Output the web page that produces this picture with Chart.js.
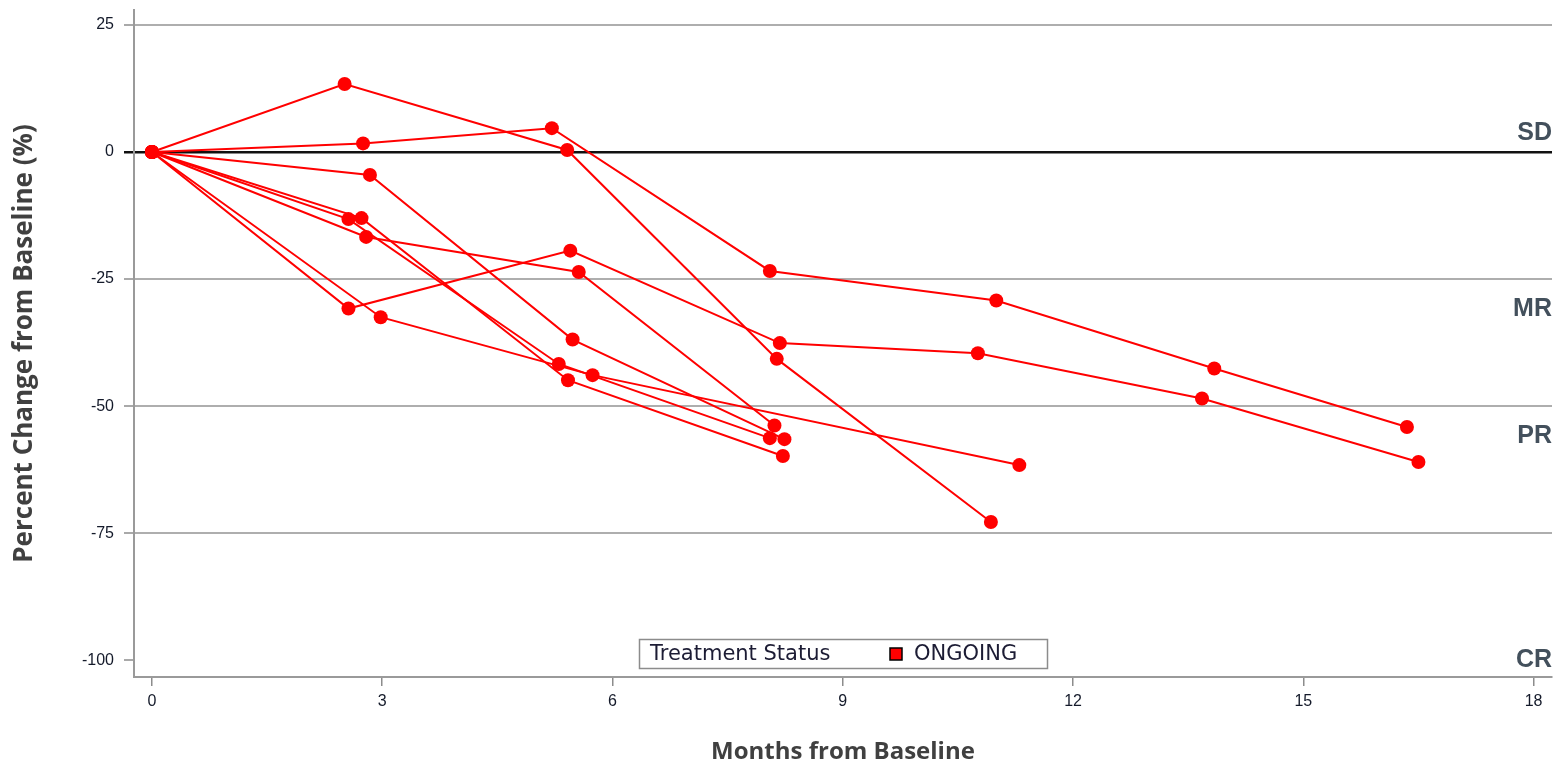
<!DOCTYPE html>
<html>
<head>
<meta charset="utf-8">
<script src="https://cdn.jsdelivr.net/npm/chart.js@4/dist/chart.umd.min.js"></script>
<style>
  html, body { margin: 0; padding: 0; background: #fff; }
  #wrap { width: 1559px; height: 765px; }
</style>
</head>
<body>
<div id="wrap"><canvas id="chart" width="1559" height="765"></canvas></div>
<script>
// months from baseline / percent change, one pair per patient
const months1 = [0, 2.51, 5.41, 8.14, 10.93];
const pct1    = [0, 13.4, 0.4, -40.7, -72.8];
const months2 = [0, 2.75, 5.21, 8.05, 11.0, 13.84, 16.35];
const pct2    = [0, 1.7, 4.7, -23.4, -29.2, -42.6, -54.1];
const months3 = [0, 2.84, 5.48, 8.24];
const pct3    = [0, -4.5, -36.9, -56.5];
const months4 = [0, 2.79, 5.56, 8.11];
const pct4    = [0, -16.7, -23.6, -53.8];
const months5 = [0, 2.56, 5.45, 8.18, 10.76, 13.68, 16.5];
const pct5    = [0, -30.8, -19.4, -37.6, -39.6, -48.5, -61.0];
const months6 = [0, 2.56, 5.3, 8.05];
const pct6    = [0, -13.2, -41.7, -56.3];
const months7 = [0, 2.73, 5.42, 8.22];
const pct7    = [0, -13.0, -44.9, -59.8];
const months8 = [0, 2.98, 5.74, 11.3];
const pct8    = [0, -32.5, -43.9, -61.6];

const xTicks = [0, 3, 6, 9, 12, 15, 18];
const yTicks = [25, 0, -25, -50, -75, -100];

// response zones written at the right edge
const zoneNames  = ["SD", "MR", "PR", "CR"];
const zoneValues = [3.7, -30.9, -55.9, -100];

const legendTitle = "Treatment Status";
const legendItem  = "ONGOING";

const RED = "#ff0000";

const allMonths = [months1, months2, months3, months4, months5, months6, months7, months8];
const allPct    = [pct1, pct2, pct3, pct4, pct5, pct6, pct7, pct8];

const datasets = allMonths.map((m, i) => ({
  label: "patient " + (i + 1),
  data: m.map((x, j) => ({ x: x, y: allPct[i][j] })),
  borderColor: RED,
  backgroundColor: RED,
  borderWidth: 2,
  pointRadius: 7,
  pointBorderWidth: 0,
  pointBackgroundColor: RED,
  showLine: true,
  tension: 0
}));

// zone labels + legend box
const overlay = {
  id: "overlay",
  afterDraw(chart) {
    const ctx = chart.ctx;
    const area = chart.chartArea;
    const y = chart.scales.y;
    ctx.save();

    ctx.font = "bold 25px 'Liberation Sans', Arial, sans-serif";
    ctx.fillStyle = "#43505c";
    ctx.textAlign = "right";
    ctx.textBaseline = "middle";
    zoneNames.forEach((name, i) => {
      ctx.fillText(name, area.right, y.getPixelForValue(zoneValues[i]));
    });

    // legend
    const bw = 408, bh = 29;
    const bx = Math.round((area.left + area.right) / 2 - bw / 2);
    const by = area.bottom - 9 - bh;
    ctx.fillStyle = "#fff";
    ctx.fillRect(bx, by, bw, bh);
    ctx.strokeStyle = "#8c8c8c";
    ctx.lineWidth = 1.5;
    ctx.strokeRect(bx + 0.5, by + 0.5, bw, bh);

    ctx.font = "21px 'DejaVu Sans', sans-serif";
    ctx.fillStyle = "#1c1c34";
    ctx.textAlign = "left";
    ctx.fillText(legendTitle, bx + 11, by + bh / 2 + 1);

    ctx.fillStyle = RED;
    ctx.fillRect(bx + 251, by + 9, 12, 12);
    ctx.strokeStyle = "#000";
    ctx.lineWidth = 1.5;
    ctx.strokeRect(bx + 251, by + 9, 12, 12);
    ctx.fillStyle = "#1c1c34";
    ctx.fillText(legendItem, bx + 275, by + bh / 2 + 1);

    ctx.restore();
  }
};

new Chart(document.getElementById("chart"), {
  type: "scatter",
  data: { datasets },
  options: {
    responsive: false,
    animation: false,
    layout: { padding: { top: 10, right: 6, left: 0, bottom: 0 } },
    plugins: { legend: { display: false }, tooltip: { enabled: false } },
    scales: {
      x: {
        type: "linear",
        min: -0.234,
        max: 18.24,
        afterBuildTicks: s => { s.ticks = xTicks.map(v => ({ value: v })); },
        afterFit: s => { s.height = 88; s.paddingLeft = 0; s.paddingRight = 0; },
        grid: {
          drawOnChartArea: false,
          color: "#8c8c8c",
          tickColor: "#8c8c8c",
          tickLength: 9,
          lineWidth: 1.5
        },
        border: { color: "#9a9a9a", width: 2 },
        ticks: {
          padding: 6,
          color: "#141a2a",
          font: { family: "'Liberation Sans', Arial, sans-serif", size: 16 },
          maxRotation: 0
        },
        title: {
          display: true,
          text: "Months from Baseline",
          color: "#404040",
          font: { family: "'Open Sans', sans-serif", size: 24, weight: "bold", lineHeight: 1 },
          padding: { top: 0, bottom: 1 }
        }
      },
      y: {
        type: "linear",
        min: -103.3,
        max: 27.95,
        afterBuildTicks: s => { s.ticks = yTicks.map(v => ({ value: v })); },
        afterFit: s => { s.width = 134; s.paddingTop = 0; s.paddingBottom = 0; },
        grid: {
          color: c => c.tick && c.tick.value === 0 ? "#111" : (c.tick && c.tick.value === -100 ? "rgba(0,0,0,0)" : "#aeaeae"),
          lineWidth: c => c.tick && c.tick.value === 0 ? 2.5 : 2,
          tickColor: c => c.tick && c.tick.value === 0 ? "#111" : "#8c8c8c",
          tickWidth: c => c.tick && c.tick.value === 0 ? 2.5 : 1.5,
          tickLength: 10
        },
        border: { color: "#9a9a9a", width: 2 },
        ticks: {
          padding: 10,
          color: "#141a2a",
          font: { family: "'Liberation Sans', Arial, sans-serif", size: 16 }
        },
        title: {
          display: true,
          text: "Percent Change from Baseline (%)",
          color: "#404040",
          font: { family: "'Open Sans', sans-serif", size: 26, weight: "bold", lineHeight: 1 },
          padding: { top: 12, bottom: 0 }
        }
      }
    }
  },
  plugins: [overlay]
});
</script>
</body>
</html>
